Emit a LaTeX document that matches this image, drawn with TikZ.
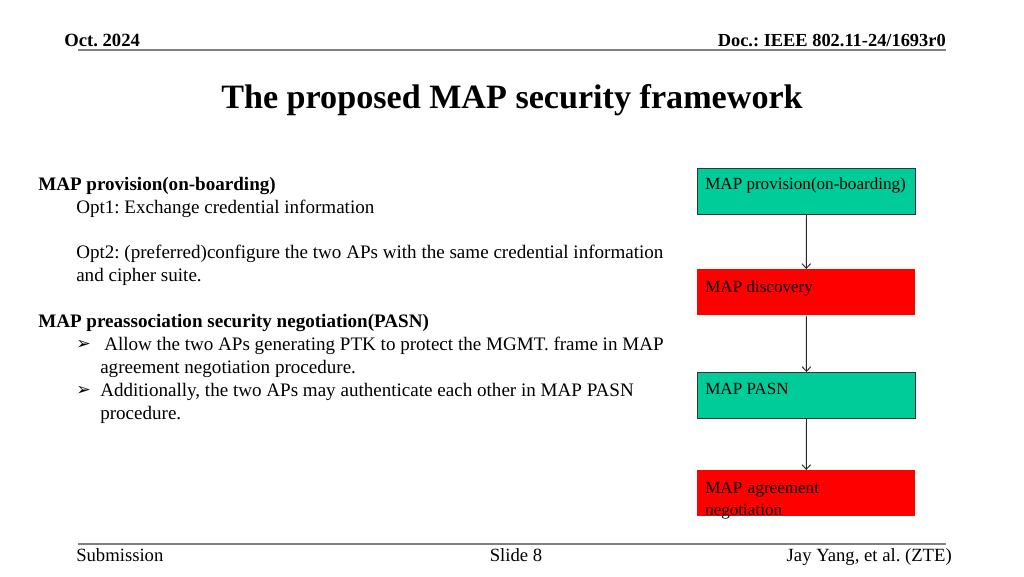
\documentclass[tikz,border=0pt]{standalone}
\usepackage{fontspec}
\setmainfont{Liberation Serif}
\newfontfamily\symfont{DejaVu Sans}
\usetikzlibrary{arrows.meta}
\definecolor{mapteal}{HTML}{00CC99}
\definecolor{mapred}{HTML}{FF0000}
\definecolor{rulegray}{HTML}{808080}
\frenchspacing
\tikzset{
  slidetxt/.style={inner sep=0pt,anchor=base west,font=\fontsize{14.3}{17}\selectfont},
  bullet/.style={inner sep=0pt,anchor=base west,font=\symfont\bfseries\fontsize{13}{15}\selectfont},
  boxbase/.style={anchor=north west,minimum width=218*0.75pt,minimum height=46*0.75pt,inner sep=0pt},
  tealbox/.style={boxbase,fill=mapteal,draw=black!80,line width=0.7pt},
  redbox/.style={boxbase,fill=mapred},
  boxtxt/.style={inner sep=0pt,anchor=base west,align=left,font=\fontsize{12.8}{17}\selectfont},
  flow/.style={-{Straight Barb[length=3.5pt,width=6.5pt,line width=0.7pt]},line width=0.7pt,black!85}
}
\begin{document}
\begin{tikzpicture}[x=0.75pt,y=-0.75pt]
\useasboundingbox (0,0) rectangle (1024,576);
% header
\node[inner sep=0pt,anchor=base west,font=\bfseries\fontsize{14}{16}\selectfont] (date) at (64,46) {Oct. 2024};
\node[inner sep=0pt,anchor=base east,font=\bfseries\fontsize{13.8}{16}\selectfont] (doc) at (946,46) {Doc.: IEEE 802.11-24/1693r0};
\draw[rulegray,line width=1.5pt] (78,50) coordinate (hl) -- (946,50) coordinate (hr);
\node[inner sep=0pt,anchor=base,font=\bfseries\fontsize{25.6}{30}\selectfont] (title) at (512,108) {The proposed MAP security framework};
% left text
\node[slidetxt,font=\bfseries\fontsize{14.3}{17}\selectfont] (provh) at (38,190) {MAP provision(on-boarding)};
\node[slidetxt] (opt1) at (76,213) {Opt1: Exchange credential information};
\node[slidetxt] (opt2) at (76,258) {Opt2: (preferred)configure the two APs with the same credential information};
\node[slidetxt] (opt2b) at (76,281) {and cipher suite.};
\node[slidetxt,font=\bfseries\fontsize{14.3}{17}\selectfont] (pasnh) at (38,327) {MAP preassociation security negotiation(PASN)};
\node[bullet] (b1) at (76,349) {➢};
\node[slidetxt] (b1t) at (104,350) {Allow the two APs generating PTK to protect the MGMT. frame in MAP};
\node[slidetxt] (b1u) at (100,373) {agreement negotiation procedure.};
\node[bullet] (b2) at (76,395) {➢};
\node[slidetxt] (b2t) at (100,396) {Additionally, the two APs may authenticate each other in MAP PASN};
\node[slidetxt] (b2u) at (100,419) {procedure.};
% flow boxes
\node[tealbox] (prov) at (697,168) {};
\node[redbox] (disc) at (697,269) {};
\node[tealbox] (pasn) at (697,372) {};
\node[redbox] (agree) at (697,470) {};
\node[boxtxt] (provt) at (705,189) {MAP provision(on-boarding)};
\node[boxtxt] (disct) at (705,292) {MAP discovery};
\node[boxtxt] (pasnt) at (705,394) {MAP PASN};
\node[boxtxt,text width=140*0.75pt] (agreet) at (705,493) {MAP agreement negotiation};
\draw[flow] (prov.south) -- (disc.north);
\draw[flow] (disc.south) -- (pasn.north);
\draw[flow] (pasn.south) -- (agree.north);
% footer
\draw[rulegray,line width=1.5pt] (78,544) coordinate (fl) -- (946,544) coordinate (fr);
\node[inner sep=0pt,anchor=base west,font=\fontsize{14}{16}\selectfont] (sub) at (76,561) {Submission};
\node[inner sep=0pt,anchor=base,font=\fontsize{14}{16}\selectfont] (slide) at (516,561) {Slide 8};
\node[inner sep=0pt,anchor=base east,font=\fontsize{14}{16}\selectfont] (auth) at (952,561) {Jay Yang, et al. (ZTE)};
\end{tikzpicture}
\end{document}
